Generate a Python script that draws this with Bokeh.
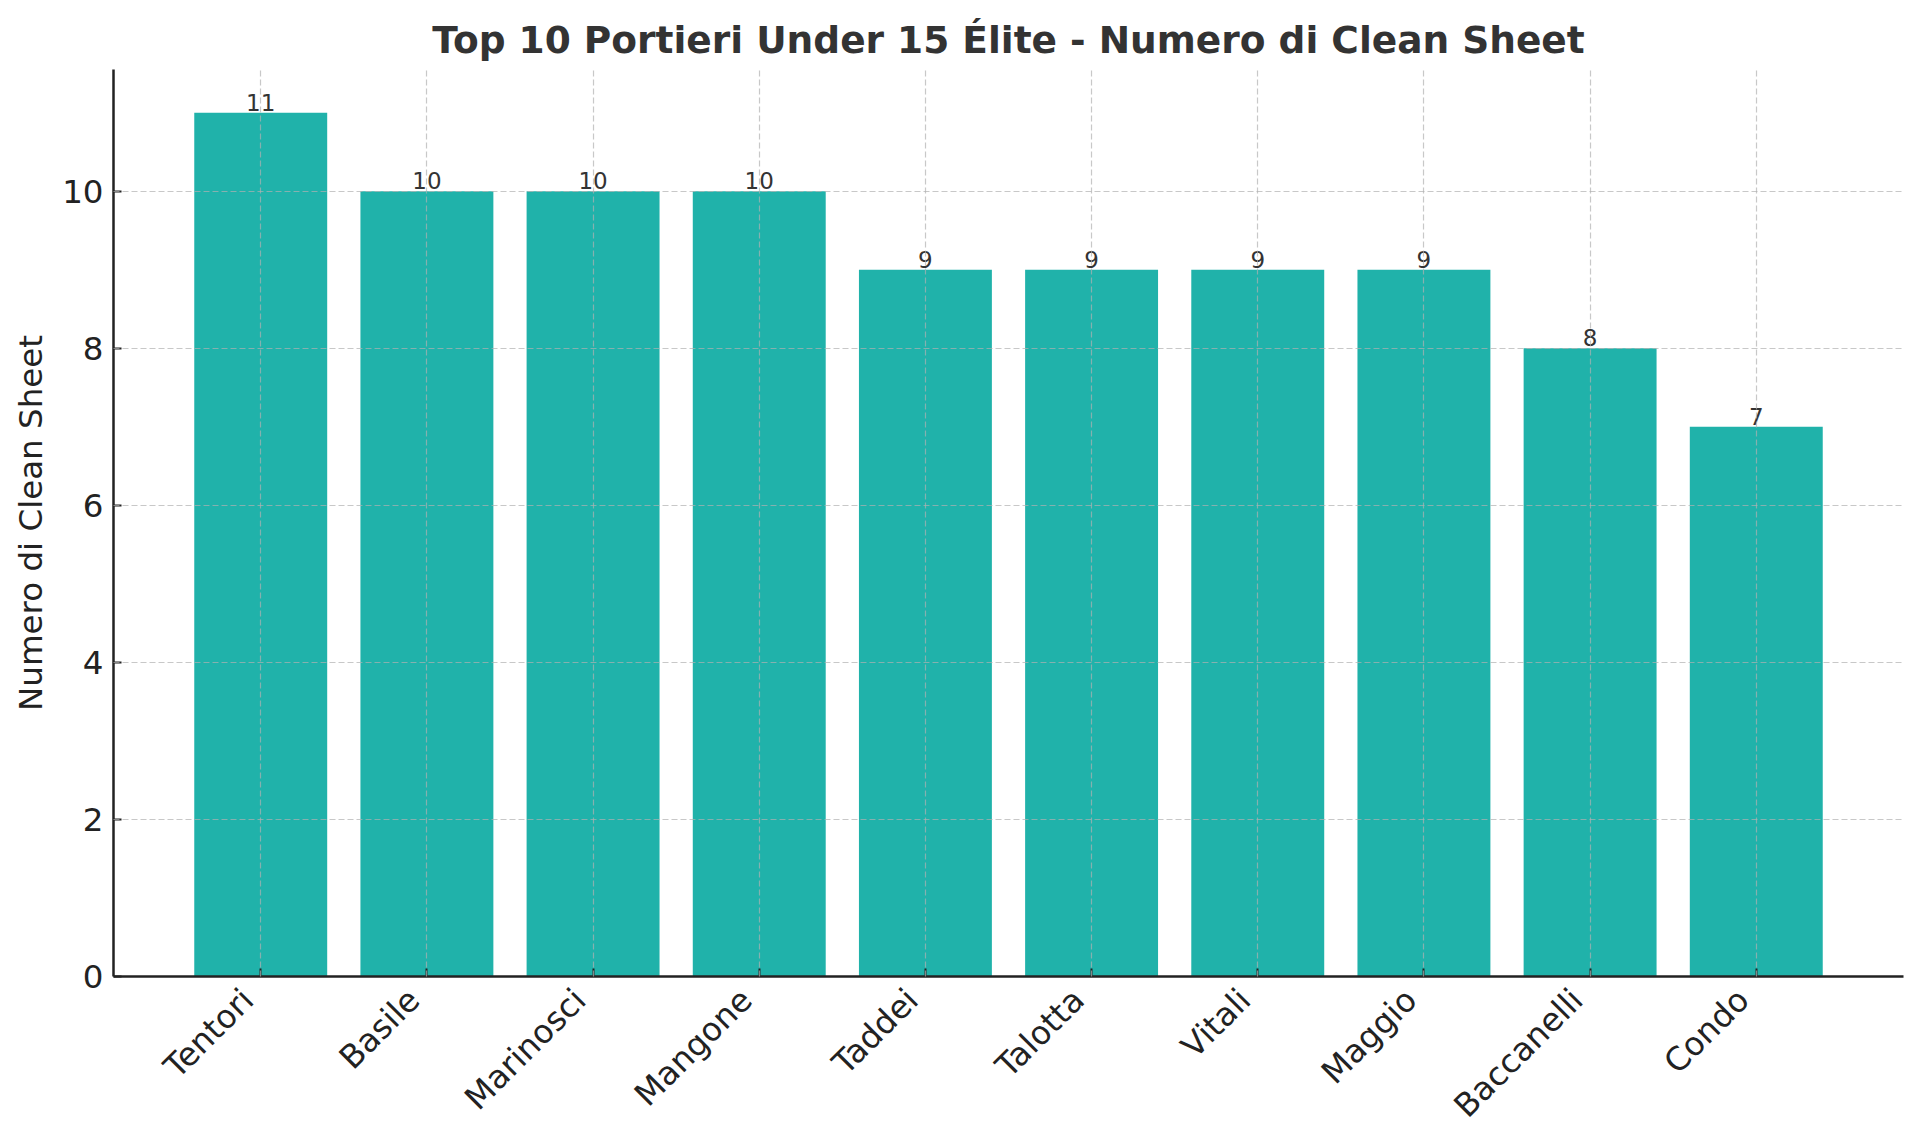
import math
from bokeh.plotting import figure
from bokeh.models import Range1d, FixedTicker, ColumnDataSource, LinearAxis
from bokeh.core.properties import value
from bokeh.embed import file_html
from bokeh.resources import INLINE

players = ["Tentori", "Basile", "Marinosci", "Mangone", "Taddei",
           "Talotta", "Vitali", "Maggio", "Baccanelli", "Condo"]
clean_sheets = [11, 10, 10, 10, 9, 9, 9, 9, 8, 7]
y_ticks = [0, 2, 4, 6, 8, 10]

FONT = "DejaVu Sans"
INK = "#222222"
idx = list(range(len(players)))
src = ColumnDataSource(dict(x=idx, top=clean_sheets,
                            label=[str(v) for v in clean_sheets]))

x_start, x_end = -0.886, len(players) - 1 + 0.886
p = figure(frame_width=1790, frame_height=907,
           min_border_left=113, min_border_right=5,
           min_border_top=69, min_border_bottom=150,
           x_range=Range1d(x_start, x_end),
           y_range=Range1d(0, max(clean_sheets) * 1.05),
           output_backend="svg", toolbar_location=None,
           title="Top 10 Portieri Under 15 Élite - Numero di Clean Sheet")

p.vbar(x="x", top="top", width=0.8, source=src, color="#20B2AA", line_color=None)
p.text(x="x", y="top", text="label", source=src, text_align="center",
       text_baseline="bottom", y_offset=-2, text_font=value(FONT),
       text_font_size="23px", text_color="#333333")

p.title.text_font = FONT
p.title.text_font_size = "37.5px"
p.title.text_font_style = "bold"
p.title.text_color = "#333333"
p.title.align = "center"
p.title.offset = 0
p.title.standoff = 16

# primary x axis: axis line and inward ticks only
xa = p.xaxis[0]
xa.ticker = FixedTicker(ticks=idx)
xa.major_label_text_font_size = "0px"
xa.major_label_text_color = None
xa.major_label_standoff = 0

# label axis: category names, right-aligned to the ticks like the original
shift = 0.078
p.extra_x_ranges = {"labels": Range1d(x_start + shift, x_end + shift)}
la = LinearAxis(x_range_name="labels", ticker=FixedTicker(ticks=idx),
                major_label_overrides={i: n for i, n in enumerate(players)},
                major_label_orientation=math.pi / 4,
                axis_line_color=None, major_tick_line_color=None,
                minor_tick_line_color=None, major_tick_out=0, major_tick_in=0,
                major_label_text_font=FONT, major_label_text_font_size="32.5px",
                major_label_text_color=INK, major_label_standoff=18)
p.add_layout(la, "below")

p.yaxis.ticker = FixedTicker(ticks=y_ticks)
p.yaxis.axis_label = "Numero di Clean Sheet"
p.yaxis.major_label_text_font = FONT
p.yaxis.major_label_text_font_size = "32.5px"
p.yaxis.major_label_text_color = INK
p.yaxis.axis_label_text_font = FONT
p.yaxis.axis_label_text_font_size = "32.5px"
p.yaxis.axis_label_text_font_style = "normal"
p.yaxis.axis_label_text_color = INK
p.yaxis.major_label_standoff = 10
p.yaxis.axis_label_standoff = 9

for ax in (xa, p.yaxis[0]):
    ax.axis_line_color = INK
    ax.axis_line_width = 2.5
    ax.major_tick_line_color = INK
    ax.major_tick_line_width = 2
    ax.major_tick_out = 0
    ax.major_tick_in = 8
    ax.minor_tick_line_color = None

for g in (p.xgrid, p.ygrid):
    g.grid_line_color = "#b0b0b0"
    g.grid_line_alpha = 0.7
    g.grid_line_dash = "6 3"
    g.grid_line_width = 1.2
    g.level = "overlay"

p.outline_line_color = None
p.background_fill_color = "white"
p.border_fill_color = "white"

open("out.html", "w").write(file_html(p, INLINE))
